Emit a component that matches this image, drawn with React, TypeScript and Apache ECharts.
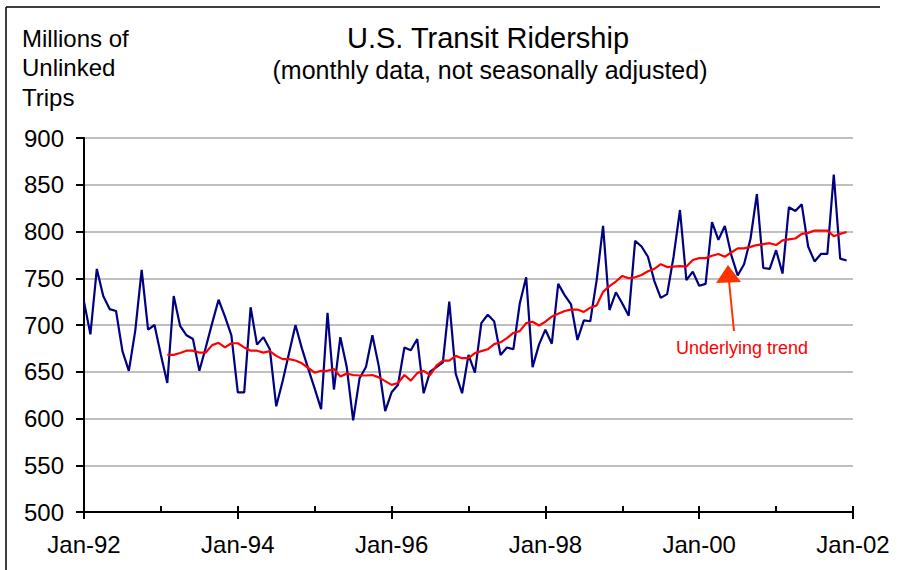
import React, { useEffect, useRef } from 'react';
import * as echarts from 'echarts';

// Monthly U.S. transit ridership, Jan-92 .. Dec-01 (millions of unlinked trips)
const ridership: number[] = [
  725, 690, 760, 731, 717, 715, 672, 651, 694, 759, 695, 700,
  668, 638, 731, 699, 689, 685, 651, 676, 702, 727, 709, 689,
  628, 628, 719, 679, 687, 674, 613, 640, 670, 700, 675, 653,
  632, 610, 713, 631, 687, 655, 598, 643, 655, 689, 656, 608,
  628, 636, 676, 673, 685, 627, 650, 655, 660, 725, 648, 627,
  668, 649, 702, 711, 704, 668, 676, 674, 723, 751, 655, 679,
  695, 680, 744, 732, 722, 684, 705, 704, 748, 806, 716, 735,
  723, 710, 790, 784, 773, 747, 729, 733, 773, 823, 748, 757,
  742, 744, 810, 791, 806, 775, 753, 765, 792, 840, 761, 760,
  780, 755, 826, 822, 829, 784, 768, 776, 776, 861, 771, 769,
];

// Underlying trend, starting Feb-93 (month index 13)
const trendStartIndex = 13;
const trend: number[] = [
  668, 668, 670, 672.5, 672.5, 670.5, 670.5, 678.5, 681, 676, 680.5,
  680.5, 676, 672.5, 672.5, 670.5, 672, 667, 663.5, 663.5, 662, 659, 654,
  649, 651, 651, 653, 645, 648, 646.5, 646, 646, 646.5, 644, 640,
  636, 638, 646.5, 640.5, 648.5, 651, 646.5, 656.5, 662, 662, 667, 664.5,
  664.5, 670, 672, 674, 679.5, 681.5, 686, 691.5, 693.5, 702, 703.5, 699.5,
  703.5, 709, 712, 715, 716.5, 716.5, 714, 718.5, 721, 735.5, 741.5, 746.5,
  752.5, 750, 751, 753.5, 757.5, 760, 765, 762, 762.5, 763, 762.5, 769.5,
  771.5, 771.5, 774, 776, 773, 777.5, 782, 782, 783.5, 785.5, 786.5, 787.5,
  785.5, 790.5, 791.5, 792.5, 797.5, 798.5, 801, 801, 801, 795, 797.5, 799.5,
];

const xTickLabels = ['Jan-92', 'Jan-94', 'Jan-96', 'Jan-98', 'Jan-00', 'Jan-02'];
const xLabelValues = [0, 24, 48, 72, 96, 120];
const yAxisTitle = ['Millions of', 'Unlinked', 'Trips'];
const titleText = 'U.S. Transit Ridership';
const subtitleText = '(monthly data, not seasonally adjusted)';
const annotationText = 'Underlying trend';

const FONT = '"Liberation Sans", Arial, Helvetica, sans-serif';

export default function App() {
  const ref = useRef<HTMLDivElement>(null);

  useEffect(() => {
    if (!ref.current) return;
    const chart = echarts.init(ref.current, null, { renderer: 'svg' });

    const blueData = ridership.map((v, i) => [i, v]);
    const trendData = trend.map((v, i) => [i + trendStartIndex, v]);

    chart.setOption({
      animation: false,
      backgroundColor: '#ffffff',
      grid: { left: 84, right: 47, top: 138, bottom: 58, containLabel: false },
      xAxis: [
        {
          type: 'value',
          min: 0,
          max: 120,
          interval: 12,
          position: 'bottom',
          axisLine: { show: true, onZero: false, lineStyle: { color: '#000', width: 2 } },
          axisTick: {
            show: true,
            inside: false,
            length: 7,
            customValues: xLabelValues,
            lineStyle: { color: '#000', width: 2 },
          },
          axisLabel: {
            show: true,
            customValues: xLabelValues,
            formatter: (v: number) => {
              const idx = xLabelValues.indexOf(v);
              return idx >= 0 ? xTickLabels[idx] : '';
            },
            fontSize: 24,
            fontFamily: FONT,
            color: '#000',
            margin: 20,
          },
          splitLine: { show: false },
        },
        {
          type: 'value',
          min: 0,
          max: 120,
          interval: 12,
          position: 'bottom',
          axisLine: { show: false },
          axisTick: { show: true, inside: true, length: 6, lineStyle: { color: '#000', width: 2 } },
          axisLabel: { show: false },
          splitLine: { show: false },
        },
      ],
      yAxis: {
        type: 'value',
        min: 500,
        max: 900,
        interval: 50,
        axisLine: { show: true, onZero: false, lineStyle: { color: '#000', width: 2 } },
        axisTick: { show: true, length: 8, lineStyle: { color: '#000', width: 2 } },
        axisLabel: { fontSize: 24, fontFamily: FONT, color: '#000', margin: 20 },
        splitLine: { show: true, lineStyle: { color: '#c0c0c0', width: 2 } },
      },
      series: [
        {
          type: 'line',
          xAxisIndex: 0,
          data: blueData,
          symbol: 'none',
          lineStyle: { color: '#000080', width: 2.2 },
          z: 3,
        },
        {
          type: 'line',
          xAxisIndex: 0,
          data: trendData,
          symbol: 'none',
          lineStyle: { color: '#ff0000', width: 2.2 },
          z: 4,
        },
      ],
      graphic: [
        { type: 'line', shape: { x1: 6, y1: 7, x2: 880, y2: 7 }, style: { stroke: '#000', lineWidth: 1.5 } },
        { type: 'line', shape: { x1: 6, y1: 7, x2: 6, y2: 570 }, style: { stroke: '#000', lineWidth: 1.5 } },
        ...yAxisTitle.map((t, i) => ({
          type: 'text',
          x: 22,
          y: 38 + i * 29.5,
          style: { text: t, fill: '#000', font: `24px ${FONT}`, textAlign: 'left', textVerticalAlign: 'middle' },
        })),
        {
          type: 'text',
          x: 488,
          y: 38,
          style: { text: titleText, fill: '#000', font: `29px ${FONT}`, textAlign: 'center', textVerticalAlign: 'middle' },
        },
        {
          type: 'text',
          x: 490,
          y: 70,
          style: { text: subtitleText, fill: '#000', font: `25px ${FONT}`, textAlign: 'center', textVerticalAlign: 'middle' },
        },
        {
          type: 'polygon',
          shape: { points: [[728, 265], [716, 283], [741, 282]] },
          style: { fill: '#ff3300' },
          z: 10,
        },
        {
          type: 'line',
          shape: { x1: 729, y1: 281, x2: 734, y2: 331 },
          style: { stroke: '#ff3300', lineWidth: 2 },
          z: 10,
        },
        {
          type: 'text',
          x: 742,
          y: 348,
          style: { text: annotationText, fill: '#ff0000', font: `18px ${FONT}`, textAlign: 'center', textVerticalAlign: 'middle' },
          z: 10,
        },
      ],
    });

    return () => {
      chart.dispose();
    };
  }, []);

  return (
    <div
      ref={ref}
      style={{ position: 'fixed', left: 0, top: 0, width: 900, height: 570, background: '#fff' }}
    />
  );
}
